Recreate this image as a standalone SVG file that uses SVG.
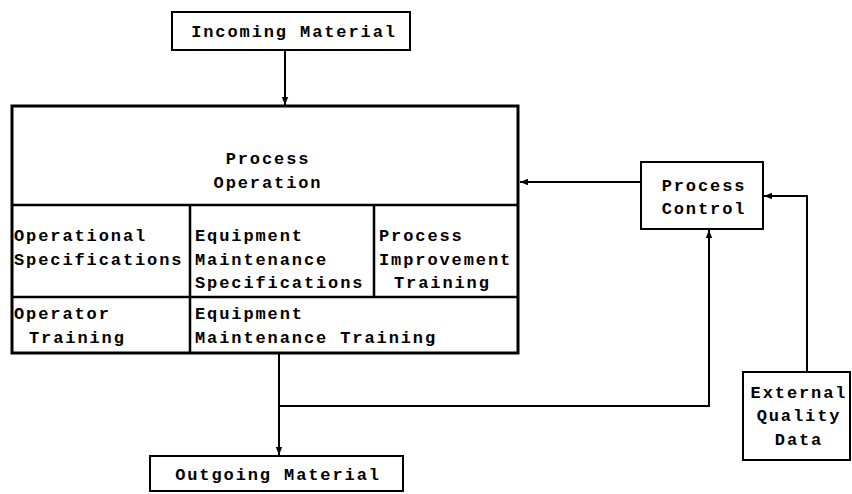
<svg xmlns="http://www.w3.org/2000/svg" width="852" height="494" viewBox="0 0 852 494">
<style>
text{font-family:"Liberation Mono","DejaVu Sans Mono",monospace;font-weight:bold;font-size:17px;letter-spacing:1.9px;fill:#000}
.c{text-anchor:middle}
.box{fill:#fff;stroke:#000;stroke-width:2}
.main{fill:#fff;stroke:#000;stroke-width:3}
.div{stroke:#000;stroke-width:2.5;fill:none}
.ln{stroke:#000;stroke-width:2;fill:none}
</style>
<defs>
<marker id="ah" viewBox="0 0 10 10" refX="10" refY="5" markerWidth="4" markerHeight="4" orient="auto" markerUnits="strokeWidth">
<path d="M0,1 L10,5 L0,9 Z" fill="#000"/>
</marker>
</defs>
<rect width="852" height="494" fill="#fff"/>
<g id="connectors">
<path class="ln" d="M285,50 V105" marker-end="url(#ah)"/>
<path class="ln" d="M641,182 H520" marker-end="url(#ah)"/>
<path class="ln" d="M807,372 V196 H764" marker-end="url(#ah)"/>
<path class="ln" d="M279,353 V455" marker-end="url(#ah)"/>
<path class="ln" d="M279,406 H709 V230" marker-end="url(#ah)"/>
</g>
<g id="incoming">
<rect class="box" x="172" y="12" width="238" height="38"/>
<text class="c" x="294" y="37">Incoming Material</text>
</g>
<g id="process-operation">
<rect class="main" x="12" y="106" width="506" height="247"/>
<path class="div" d="M12,205 H518 M12,297 H518 M190,205 V353 M374,205 V297"/>
<text class="c" x="268" y="164">Process</text>
<text class="c" x="268" y="188">Operation</text>
</g>
<g id="operational-specifications">
<text x="14" y="241">Operational</text>
<text x="14" y="265">Specifications</text>
</g>
<g id="equipment-maintenance-specifications">
<text x="195" y="241">Equipment</text>
<text x="195" y="265">Maintenance</text>
<text x="195" y="288">Specifications</text>
</g>
<g id="process-improvement-training">
<text x="379" y="241">Process</text>
<text x="379" y="265">Improvement</text>
<text x="394" y="288">Training</text>
</g>
<g id="operator-training">
<text x="14" y="319">Operator</text>
<text x="29" y="343">Training</text>
</g>
<g id="equipment-maintenance-training">
<text x="195" y="319">Equipment</text>
<text x="195" y="343">Maintenance Training</text>
</g>
<g id="process-control">
<rect class="box" x="641" y="162" width="122" height="67"/>
<text class="c" x="704" y="191">Process</text>
<text class="c" x="704" y="214">Control</text>
</g>
<g id="external-quality-data">
<rect class="box" x="743" y="372" width="107" height="88"/>
<text class="c" x="799" y="398">External</text>
<text class="c" x="799" y="421">Quality</text>
<text class="c" x="799" y="445">Data</text>
</g>
<g id="outgoing">
<rect class="box" x="150" y="456" width="253" height="35"/>
<text class="c" x="278" y="480">Outgoing Material</text>
</g>
</svg>
